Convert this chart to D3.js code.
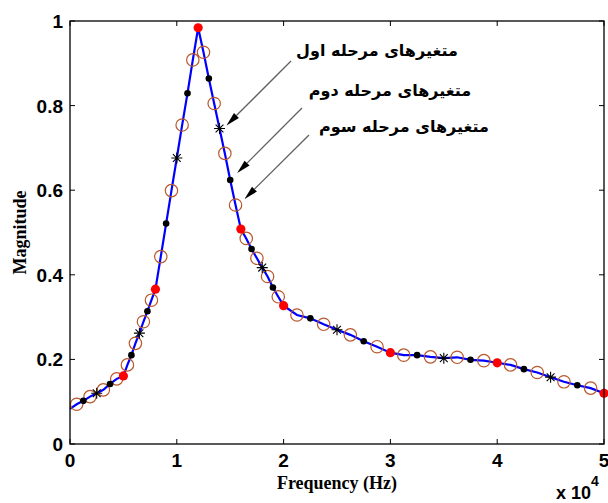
<!DOCTYPE html>
<html>
<head>
<meta charset="utf-8">
<script src="https://cdn.jsdelivr.net/npm/d3@7"></script>
<style>
  body { margin: 0; background: #fff; }
  svg { display: block; }
</style>
</head>
<body>
<script>
// frequencies in Hz, magnitudes
// red dots: first stage variables (section boundaries)
var redFreq = [5000, 8000, 12000, 16000, 20000, 30000, 40000, 50000];
var redMag  = [0.161, 0.366, 0.984, 0.508, 0.327, 0.216, 0.192, 0.120];

// asterisks: midpoints of each section
var starFreq = [2500, 6500, 10000, 14000, 18000, 25000, 35000, 45000];
var starMag  = [0.120, 0.262, 0.676, 0.746, 0.417, 0.270, 0.203, 0.158];

// black dots: quarter points
var dotFreq = [1250, 3750, 5750, 7250, 9000, 11000, 13000, 15000, 17000, 19000,
               22500, 27500, 32500, 37500, 42500, 47500];
var dotMag  = [0.102, 0.142, 0.210, 0.314, 0.521, 0.829, 0.864, 0.624, 0.461, 0.370,
               0.297, 0.243, 0.210, 0.199, 0.177, 0.139];

// open circles: eighth points
var circFreq = [625, 1875, 3125, 4375, 5375, 6125, 6875, 7625, 8500, 9500, 10500, 11500,
                12500, 13500, 14500, 15500, 16500, 17500, 18500, 19500,
                21250, 23750, 26250, 28750, 31250, 33750, 36250, 38750,
                41250, 43750, 46250, 48750];
var circMag  = [0.094, 0.112, 0.128, 0.154, 0.187, 0.238, 0.289, 0.340, 0.443, 0.599, 0.754, 0.908,
                0.926, 0.805, 0.687, 0.565, 0.486, 0.439, 0.396, 0.348,
                0.305, 0.283, 0.258, 0.230, 0.210, 0.206, 0.205, 0.197,
                0.187, 0.169, 0.147, 0.132];

// where the blue curve starts at 0 Hz
var startFreq = [0], startMag = [0.083];

var xTicks = [0, 10000, 20000, 30000, 40000, 50000];
var yTicks = [0, 0.2, 0.4, 0.6, 0.8, 1];

var labels = ['متغیرهای مرحله اول', 'متغیرهای مرحله دوم', 'متغیرهای مرحله سوم'];
// each label points at one sample (freq, mag)
var labelTargetFreq = [14000, 15000, 15500];
var labelTargetMag  = [0.746, 0.624, 0.565];

var width = 608, height = 503;
var pLeft = 70, pRight = 604, pTop = 21, pBottom = 444;

var x_scale = d3.scaleLinear().domain([0, 50000]).range([pLeft, pRight]);
var y_scale = d3.scaleLinear().domain([0, 1]).range([pBottom, pTop]);

var svg = d3.select('body').append('svg').attr('width', width).attr('height', height);

function zip(fs, ms) { return fs.map(function(f, i) { return {f: f, m: ms[i]}; }); }

var reds = zip(redFreq, redMag), stars = zip(starFreq, starMag),
    dots = zip(dotFreq, dotMag), circs = zip(circFreq, circMag);
var all_pts = zip(startFreq, startMag).concat(reds, stars, dots, circs)
  .sort(function(a, b) { return a.f - b.f; });

// curve
var line = d3.line().x(d => x_scale(d.f)).y(d => y_scale(d.m));
svg.append('path').datum(all_pts).attr('d', line)
  .attr('fill', 'none').attr('stroke', '#0000ff').attr('stroke-width', 2.2);

// markers
svg.append('g').selectAll('circle').data(circs).enter().append('circle')
  .attr('cx', d => x_scale(d.f)).attr('cy', d => y_scale(d.m)).attr('r', 6.2)
  .attr('fill', 'none').attr('stroke', '#b8582c').attr('stroke-width', 1.2);

svg.append('g').selectAll('circle').data(dots).enter().append('circle')
  .attr('cx', d => x_scale(d.f)).attr('cy', d => y_scale(d.m)).attr('r', 3.3)
  .attr('fill', '#000');

var s = 5.5, sd = 3.9;
svg.append('g').selectAll('path').data(stars).enter().append('path')
  .attr('transform', d => 'translate(' + x_scale(d.f) + ',' + y_scale(d.m) + ')')
  .attr('d', 'M' + -s + ',0H' + s + 'M0,' + -s + 'V' + s +
             'M' + -sd + ',' + -sd + 'L' + sd + ',' + sd + 'M' + -sd + ',' + sd + 'L' + sd + ',' + -sd)
  .attr('stroke', '#000').attr('stroke-width', 1.1).attr('fill', 'none');

svg.append('g').selectAll('circle').data(reds).enter().append('circle')
  .attr('cx', d => x_scale(d.f)).attr('cy', d => y_scale(d.m)).attr('r', 4.6)
  .attr('fill', '#ff0000');

// frame and ticks
svg.append('rect').attr('x', pLeft).attr('y', pTop).attr('width', pRight - pLeft).attr('height', pBottom - pTop)
  .attr('fill', 'none').attr('stroke', '#000').attr('stroke-width', 1.3);

var tk = 5;
var fmtX = d => d3.format('d')(d / 10000);
var fmtY = d => (d === 0 || d === 1) ? String(d) : d3.format('.1f')(d);

var xax = svg.append('g');
xTicks.forEach(function(t) {
  var xx = x_scale(t);
  xax.append('line').attr('x1', xx).attr('x2', xx).attr('y1', pBottom).attr('y2', pBottom - tk).attr('stroke', '#000');
  xax.append('line').attr('x1', xx).attr('x2', xx).attr('y1', pTop).attr('y2', pTop + tk).attr('stroke', '#000');
  xax.append('text').attr('x', xx).attr('y', 467).attr('text-anchor', 'middle')
    .attr('font-family', 'Liberation Sans, Arial, sans-serif').attr('font-weight', 'bold').attr('font-size', 19)
    .text(fmtX(t));
});
var yax = svg.append('g');
yTicks.forEach(function(t) {
  var yy = y_scale(t);
  yax.append('line').attr('x1', pLeft).attr('x2', pLeft + tk).attr('y1', yy).attr('y2', yy).attr('stroke', '#000');
  yax.append('line').attr('x1', pRight).attr('x2', pRight - tk).attr('y1', yy).attr('y2', yy).attr('stroke', '#000');
  yax.append('text').attr('x', 63).attr('y', yy + 7).attr('text-anchor', 'end')
    .attr('font-family', 'Liberation Sans, Arial, sans-serif').attr('font-weight', 'bold').attr('font-size', 19)
    .text(fmtY(t));
});

// axis titles
svg.append('text').attr('x', (pLeft + pRight) / 2).attr('y', 489).attr('text-anchor', 'middle')
  .attr('font-family', 'Liberation Serif, Times New Roman, serif').attr('font-weight', 'bold').attr('font-size', 18)
  .text('Frequency (Hz)');
svg.append('text').attr('transform', 'translate(26,' + (pTop + pBottom) / 2 + ') rotate(-90)')
  .attr('text-anchor', 'middle')
  .attr('font-family', 'Liberation Serif, Times New Roman, serif').attr('font-weight', 'bold').attr('font-size', 18)
  .text('Magnitude');

var mult = svg.append('text').attr('x', 556).attr('y', 499)
  .attr('font-family', 'Liberation Sans, Arial, sans-serif').attr('font-weight', 'bold').attr('font-size', 18);
mult.append('tspan').text('x 10');
mult.append('tspan').attr('dy', -13).attr('font-size', 14).text('4');

// annotations
var labelX = [377, 390, 404], labelY = [56, 96, 132];
var arrowStart = [[291, 61], [302, 108], [309, 135]];
var tipOff = [[7, -3], [7, -7], [9, -6]];
var ann = svg.append('g');
labels.forEach(function(txt, i) {
  ann.append('text').attr('x', labelX[i]).attr('y', labelY[i]).attr('text-anchor', 'middle')
    .attr('direction', 'rtl')
    .attr('font-family', 'DejaVu Sans, sans-serif').attr('font-weight', 'bold').attr('font-size', 16)
    .text(txt);
  var x0 = arrowStart[i][0], y0 = arrowStart[i][1];
  var x1 = x_scale(labelTargetFreq[i]) + tipOff[i][0], y1 = y_scale(labelTargetMag[i]) + tipOff[i][1];
  var ang = Math.atan2(y1 - y0, x1 - x0), L = 14, w = 3.5;
  var bx = x1 - L * Math.cos(ang), by = y1 - L * Math.sin(ang);
  ann.append('line').attr('x1', x0).attr('y1', y0).attr('x2', bx).attr('y2', by)
    .attr('stroke', '#606060').attr('stroke-width', 1.3);
  var px = -Math.sin(ang) * w, py = Math.cos(ang) * w;
  ann.append('path').attr('d', 'M' + x1 + ',' + y1 + 'L' + (bx + px) + ',' + (by + py) + 'L' + (bx - px) + ',' + (by - py) + 'Z')
    .attr('fill', '#000');
});
</script>
</body>
</html>
